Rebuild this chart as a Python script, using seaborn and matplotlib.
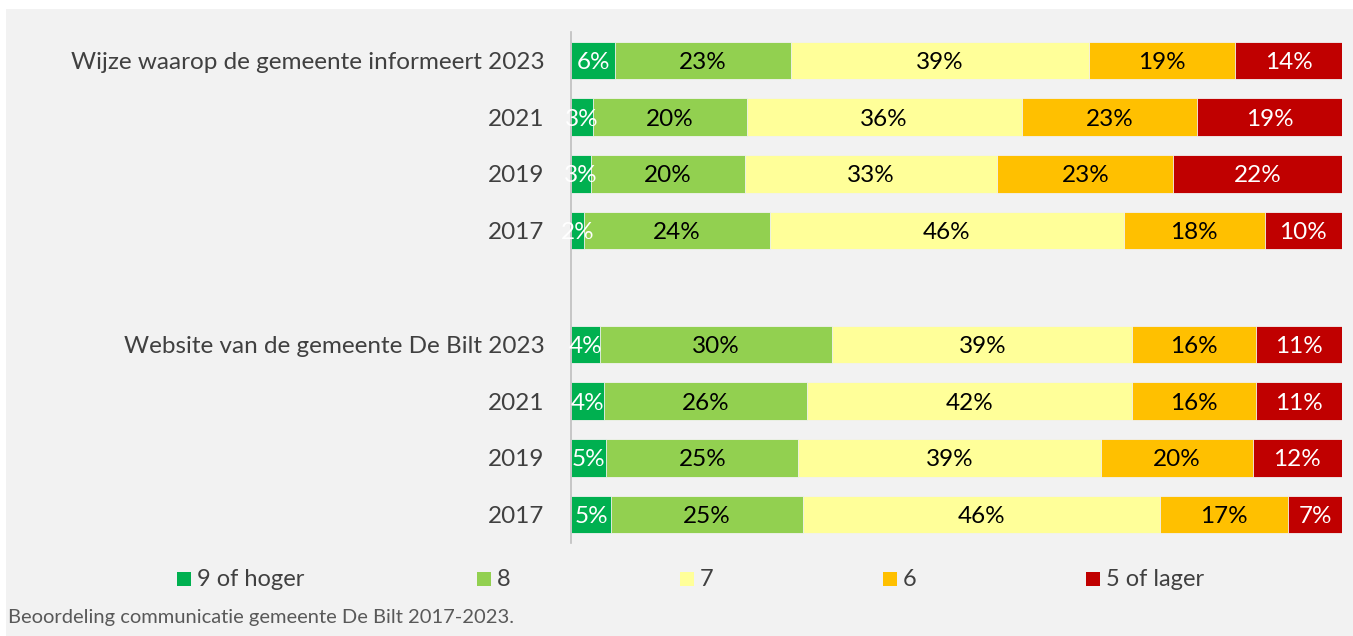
import pandas as pd
import seaborn as sns
import matplotlib
matplotlib.use("Agg")
import matplotlib.pyplot as plt
from matplotlib.patches import Rectangle

# row keys (top to bottom), "gap" is the empty row between the two blocks
rows = ["inf2023", "inf2021", "inf2019", "inf2017", "gap",
        "web2023", "web2021", "web2019", "web2017"]
row_labels = ["Wijze waarop de gemeente informeert 2023", "2021", "2019", "2017", "",
              "Website van de gemeente De Bilt 2023", "2021", "2019", "2017"]

categories = ["9 of hoger", "8", "7", "6", "5 of lager"]
colors = ["#00b050", "#92d050", "#ffff99", "#ffc000", "#c00000"]
text_colors = ["white", "black", "black", "black", "white"]

# percentages per score (rows without the gap)
score_9 = [5.75, 2.8, 2.6, 1.7, 3.8, 4.3, 4.6, 5.2]
score_8 = [22.8, 20.0, 20.0, 24.1, 30.1, 26.4, 24.9, 24.9]
score_7 = [38.7, 35.7, 32.7, 45.8, 39.0, 42.2, 39.3, 46.4]
score_6 = [18.9, 22.8, 22.8, 18.3, 16.0, 16.0, 19.7, 16.6]
score_5 = [13.9, 18.8, 21.9, 10.0, 11.2, 11.2, 11.6, 7.0]

data_rows = [r for r in rows if r != "gap"]
df = pd.DataFrame({"row": data_rows, categories[0]: score_9, categories[1]: score_8,
                   categories[2]: score_7, categories[3]: score_6, categories[4]: score_5})
raw = df[categories].copy()
# 100% stacked: scale each row to 100
df[categories] = raw.div(raw.sum(axis=1), axis=0) * 100
cum = df[categories].cumsum(axis=1)

W, H = 1353, 636
fig = plt.figure(figsize=(W / 100, H / 100), dpi=100, facecolor="white")
fig.patches.append(Rectangle((6 / W, 0), 1, 1 - 9 / H, transform=fig.transFigure,
                             facecolor="#f2f2f2", edgecolor="none", zorder=-10))
ax = fig.add_axes([571 / W, 1 - 543 / H, (1342 - 571) / W, (543 - 32) / H])
ax.set_facecolor("none")

font = "Lato"
# draw the stack from the outermost segment inwards
for i in range(len(categories) - 1, -1, -1):
    sns.barplot(x=cum[categories[i]], y=df["row"], order=rows, orient="h",
                color=colors[i], width=0.66, edgecolor="#f2f2f2", linewidth=0.6,
                saturation=1, ax=ax)

# value labels in the middle of each segment
for j, r in enumerate(data_rows):
    y = rows.index(r)
    left = 0
    for i, c in enumerate(categories):
        w = df.loc[j, c]
        ax.text(left + w / 2, y, f"{int(raw.loc[j, c] + 0.5)}%", ha="center",
                va="center_baseline", color=text_colors[i], fontsize=17.5, family=font)
        left += w

ax.set_xlim(0, 100)
ax.set_ylim(len(rows) - 0.5, -0.5)
ax.set_xlabel("")
ax.set_ylabel("")
ax.set_xticks([])
ax.set_yticks(range(len(rows)))
ax.set_yticklabels(row_labels, fontsize=17.5, color="#404040", family=font)
ax.tick_params(axis="y", length=0, pad=19)
for s in ["top", "right", "bottom"]:
    ax.spines[s].set_visible(False)
ax.spines["left"].set_color("#bfbfbf")
ax.spines["left"].set_linewidth(1.2)

# legend, laid out like the original
legend_x = [177, 477, 680, 883, 1086]
for x, c, lab in zip(legend_x, colors, categories):
    fig.patches.append(Rectangle((x / W, 1 - 586 / H), 14 / W, 14 / H,
                                 transform=fig.transFigure, facecolor=c, edgecolor="none"))
    fig.text((x + 20) / W, 1 - 579 / H, lab, ha="left", va="center", fontsize=17,
             color="#404040", family=font)

fig.text(8 / W, 1 - 618 / H, "Beoordeling communicatie gemeente De Bilt 2017-2023.",
         ha="left", va="center", fontsize=14.5, color="#595959", family=font)

fig.savefig("out.png", dpi=100, facecolor=fig.get_facecolor())
